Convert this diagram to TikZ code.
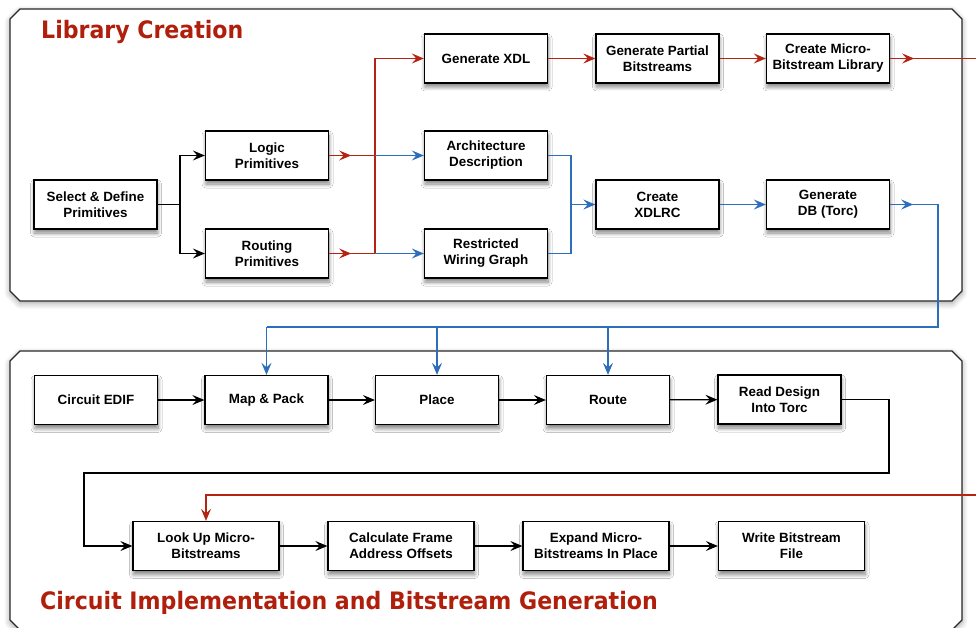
\documentclass[tikz,border=0pt]{standalone}
\usepackage{fontspec}
\setmainfont{Liberation Sans}
\newfontfamily\titlefont[FakeStretch=0.92]{DejaVu Sans}
\usetikzlibrary{arrows.meta,shadows.blur}

\definecolor{titlered}{RGB}{176,30,12}
\definecolor{flowred}{RGB}{180,36,18}
\definecolor{flowblue}{RGB}{44,110,186}
\definecolor{panelline}{RGB}{40,40,40}

\tikzset{
  arr/.tip={Stealth[length=12pt,width=10pt,inset=4.5pt]},
  panel/.style={draw=panelline, line width=1.3pt, fill=white,
    blur shadow={shadow xshift=0pt, shadow yshift=-2.5pt, shadow blur radius=6pt,
      shadow blur steps=8, shadow opacity=35}},
  stepbox/.style={draw=black, line width=1.3pt, fill=white,
    minimum width=123pt, minimum height=49pt, inner sep=0pt, align=center,
    font=\bfseries\fontsize{13.4}{16}\selectfont,
    blur shadow={shadow xshift=0.5pt, shadow yshift=-4pt, shadow blur radius=4pt,
      shadow blur steps=8, shadow opacity=50}},
  widebox/.style={stepbox, minimum width=146pt},
  blackflow/.style={draw=black, line width=1.2pt},
  redflow/.style={draw=flowred, line width=1.2pt},
  blueflow/.style={draw=flowblue, line width=1.2pt},
  paneltitle/.style={anchor=base west, inner sep=0pt, text=titlered,
    font=\titlefont\bfseries\fontsize{24}{28}\selectfont},
}

\begin{document}
\begin{tikzpicture}[x=1pt,y=1pt]
\useasboundingbox (0,0) rectangle (976,-628);

% the two stage panels
\path[panel] (10,-19) -- (20,-9) -- (952,-9) -- (962,-19) -- (962,-291) -- (952,-301)
  -- (20,-301) -- (10,-291) -- cycle;
\path[panel] (10,-361) -- (20,-351) -- (952,-351) -- (962,-361) -- (962,-620) -- (952,-630)
  -- (20,-630) -- (10,-620) -- cycle;

\node[paneltitle] (libtitle) at (41,-39) {Library Creation};
\node[paneltitle] (impltitle) at (40,-609) {Circuit Implementation and Bitstream Generation};

% library creation steps
\node[stepbox] (sel)      at (95.5,-204.5) {Select \& Define\\Primitives};
\node[stepbox] (logic)    at (267,-155.5)  {Logic\\Primitives};
\node[stepbox] (routing)  at (267,-253.5)  {Routing\\Primitives};
\node[stepbox] (genxdl)   at (486,-58.5)   {Generate XDL};
\node[stepbox] (arch)     at (486,-155.5)  {Architecture\\Description};
\node[stepbox] (rwg)      at (486,-253.5)  {Restricted\\Wiring Graph};
\node[stepbox] (partial)  at (657.5,-58.5) {Generate Partial\\Bitstreams};
\node[stepbox] (microlib) at (828,-58.5)   {Create Micro-\\Bitstream Library};
\node[stepbox] (xdlrc)    at (657.5,-204.5){Create\\XDLRC};
\node[stepbox] (gendb)    at (828,-204.5)  {Generate\\DB (Torc)};

% implementation steps
\node[stepbox] (edif)       at (96,-400)    {Circuit EDIF};
\node[stepbox] (mappack)    at (266.5,-400) {Map \& Pack};
\node[stepbox] (place)      at (437,-400)   {Place};
\node[stepbox] (route)      at (608,-400)   {Route};
\node[stepbox] (readdesign) at (779.5,-399.5) {Read Design\\Into Torc};
\node[widebox] (lookup)     at (206,-546)   {Look Up Micro-\\Bitstreams};
\node[widebox] (calcframe)  at (401,-546)   {Calculate Frame\\Address Offsets};
\node[widebox] (expand)     at (596,-546)   {Expand Micro-\\Bitstreams In Place};
\node[widebox] (writebs)    at (791.5,-546) {Write Bitstream\\File};

% junctions and free ends
\coordinate (fork)   at (180,-204.5);
\coordinate (jlogic) at (375,-155.5);
\coordinate (jrout)  at (375,-253.5);
\coordinate (jarch)  at (571,-155.5);
\coordinate (jxdlrc) at (571,-204.5);
\coordinate (jrwg)   at (571,-253.5);
\coordinate (dbturn) at (938,-204.5);
\coordinate (bus)    at (938,-327);
\coordinate (redout) at (976,-58.5);
\coordinate (redin)  at (976,-495);
\coordinate (loopa)  at (889,-473);
\coordinate (loopb)  at (84,-473);

% primitive selection
\draw[blackflow] (sel.east) -- (fork);
\draw[blackflow,-arr] (fork) |- (logic.west);
\draw[blackflow,-arr] (fork) |- (routing.west);

% bitstream branch (red)
\draw[redflow] (logic.east) -- (jlogic);
\draw[redflow,-arr] (logic.east) -- ++(22,0);
\draw[redflow] (routing.east) -- (jrout);
\draw[redflow,-arr] (routing.east) -- ++(22,0);
\draw[redflow,-arr] (jrout) |- (genxdl.west);
\draw[redflow,-arr] (genxdl) -- (partial);
\draw[redflow,-arr] (partial) -- (microlib);
\draw[redflow] (microlib.east) -- (redout);
\draw[redflow,-arr] (microlib.east) -- ++(24,0);
\draw[redflow,-arr] (redin) -| (lookup.north);

% device database branch (blue)
\draw[blueflow,-arr] (jlogic) -- (arch.west);
\draw[blueflow,-arr] (jrout) -- (rwg.west);
\draw[blueflow] (arch.east) -- (jarch) -- (jrwg) -- (rwg.east);
\draw[blueflow,-arr] (jxdlrc) -- (xdlrc.west);
\draw[blueflow,-arr] (xdlrc) -- (gendb);
\draw[blueflow] (gendb.east) -- (dbturn) -- (bus) -- (bus -| mappack.north);
\draw[blueflow,-arr] (gendb.east) -- ++(23,0);
\draw[blueflow,-arr] (bus -| mappack.north) -- (mappack.north);
\draw[blueflow,-arr] (bus -| place.north) -- (place.north);
\draw[blueflow,-arr] (bus -| route.north) -- (route.north);

% implementation flow
\draw[blackflow,-arr] (edif) -- (mappack);
\draw[blackflow,-arr] (mappack) -- (place);
\draw[blackflow,-arr] (place) -- (route);
\draw[blackflow,-arr] (route) -- (readdesign);
\draw[blackflow,-arr] (readdesign.east) -| (loopa) -- (loopb) |- (lookup.west);
\draw[blackflow,-arr] (lookup) -- (calcframe);
\draw[blackflow,-arr] (calcframe) -- (expand);
\draw[blackflow,-arr] (expand) -- (writebs);
\end{tikzpicture}
\end{document}
